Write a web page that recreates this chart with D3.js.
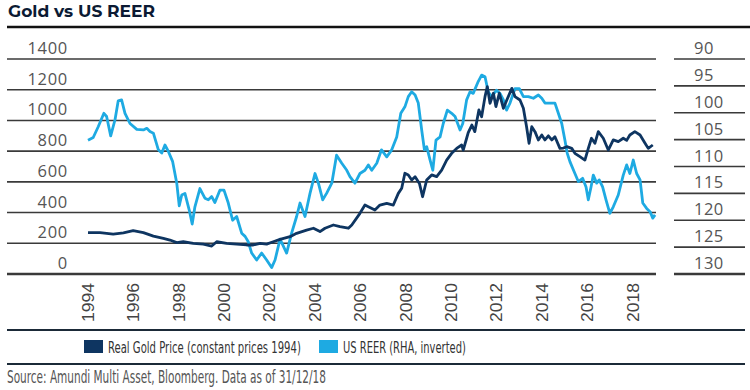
<!DOCTYPE html>
<html><head><meta charset="utf-8">
<script src="https://cdn.jsdelivr.net/npm/d3@7"></script>
<style>
html,body{margin:0;padding:0;background:#fff;}
svg{display:block;}
</style></head>
<body>
<svg id="chart" width="750" height="390"></svg>
<script>
// ---- data ----
const yearTicks = [1994,1996,1998,2000,2002,2004,2006,2008,2010,2012,2014,2016,2018];
const leftTicks = [0,200,400,600,800,1000,1200,1400];
const rightTicks = [90,95,100,105,110,115,120,125,130];
const seriesNames = ["Real Gold Price (constant prices 1994)", "US REER (RHA, inverted)"];

// US REER: [decimal year, index]
const reer = [
[1994.0,105.1],[1994.23,104.6],[1994.45,102.6],[1994.70,100.1],[1994.82,100.7],[1995.0,104.3],
[1995.19,101.3],[1995.33,97.8],[1995.48,97.6],[1995.63,100.1],[1995.85,102],[1996.15,103.1],
[1996.44,103.2],[1996.59,102.9],[1996.73,103.5],[1996.88,103.8],[1997.10,106.9],[1997.25,107.5],
[1997.39,106],[1997.54,107.2],[1997.73,109.1],[1997.91,113.1],[1998.02,117.3],[1998.13,115.3],
[1998.27,115],[1998.46,118.1],[1998.59,120.7],[1998.71,117.5],[1998.93,114.1],[1999.15,115.9],
[1999.30,116.2],[1999.45,115.6],[1999.59,116.7],[1999.81,114.4],[1999.99,114.4],[2000.18,116.8],
[2000.37,120],[2000.55,119.3],[2000.77,122.4],[2000.92,123],[2001.06,124],[2001.21,126.1],
[2001.43,127.4],[2001.65,126.1],[2001.87,127.4],[2002.09,128.8],[2002.24,127.4],[2002.46,123.5],
[2002.75,126.1],[2002.97,122.4],[2003.19,119.3],[2003.34,116.8],[2003.56,119.3],[2003.78,115],
[2004.0,111.3],[2004.15,113.1],[2004.34,116.2],[2004.51,115],[2004.74,113.1],[2004.95,107.9],
[2005.18,109.4],[2005.40,110.7],[2005.54,111.9],[2005.76,113.1],[2005.98,111.3],[2006.20,110.7],
[2006.35,109.7],[2006.50,110.7],[2006.72,109.4],[2006.93,106.9],[2007.16,108.2],[2007.38,106.9],
[2007.60,104.5],[2007.78,100.1],[2007.96,98.9],[2008.11,97],[2008.26,96.1],[2008.41,96.7],
[2008.55,98.2],[2008.70,103.2],[2008.82,106.9],[2008.92,106.3],[2009.07,108.8],[2009.19,110.7],
[2009.33,105.1],[2009.51,104.5],[2009.65,102],[2009.83,99.5],[2010.02,100.1],[2010.17,100.7],
[2010.39,103.2],[2010.51,102],[2010.68,97.6],[2010.83,96.1],[2010.97,96.4],[2011.19,94.2],
[2011.34,93],[2011.49,93.3],[2011.63,96.1],[2011.78,97],[2012.0,95.8],[2012.15,96.4],
[2012.30,97.6],[2012.44,99.5],[2012.59,98.2],[2012.81,95.5],[2013.0,95.5],[2013.18,97],
[2013.40,97],[2013.62,97.3],[2013.84,96.7],[2013.99,97.3],[2014.13,98.2],[2014.35,98.2],
[2014.57,98.2],[2014.72,100.1],[2014.87,102],[2015.01,105.1],[2015.11,107.5],[2015.23,109.1],
[2015.45,111.3],[2015.60,112.8],[2015.79,112.2],[2015.94,113.8],[2016.04,116.2],[2016.16,113.8],
[2016.26,111.6],[2016.41,113.1],[2016.52,112.5],[2016.67,113.8],[2016.82,116.2],[2016.99,118.7],
[2017.14,117.5],[2017.36,115.3],[2017.58,111.6],[2017.73,109.7],[2017.87,111.3],[2018.02,108.8],
[2018.17,111.3],[2018.32,112.5],[2018.44,116.8],[2018.61,117.8],[2018.76,118.4],[2018.88,119.6],
[2018.98,119]
];

// Real gold price: [decimal year, USD]
const gold = [
[1994.0,270],[1994.53,269],[1995.11,260],[1995.56,268],[1995.99,282],[1996.44,269],[1996.88,247],
[1997.32,232],[1997.61,221],[1997.91,204],[1998.20,210],[1998.64,200],[1999.08,195],[1999.45,182],
[1999.67,210],[2000.11,200],[2000.55,195],[2000.99,189],[2001.28,189],[2001.58,200],[2001.87,195],
[2002.16,210],[2002.46,225],[2002.90,243],[2003.19,265],[2003.63,286],[2003.93,298],[2004.22,276],
[2004.44,298],[2004.81,319],[2005.10,308],[2005.47,298],[2005.62,319],[2005.98,395],[2006.20,449],
[2006.35,438],[2006.64,417],[2006.86,449],[2007.16,460],[2007.45,449],[2007.67,525],[2007.82,558],
[2007.96,656],[2008.11,645],[2008.26,612],[2008.41,634],[2008.60,590],[2008.74,503],[2008.92,612],
[2009.14,645],[2009.36,634],[2009.58,677],[2009.80,742],[2010.02,786],[2010.24,818],[2010.46,840],
[2010.53,807],[2010.68,884],[2010.75,920],[2010.91,970],[2011.04,927],[2011.22,1068],[2011.34,1024],
[2011.49,1155],[2011.59,1220],[2011.71,1112],[2011.86,1177],[2011.97,1090],[2012.12,1177],
[2012.30,1079],[2012.45,1133],[2012.67,1209],[2012.81,1155],[2013.03,1133],[2013.18,1079],
[2013.32,959],[2013.43,851],[2013.55,959],[2013.69,927],[2013.84,873],[2013.99,905],[2014.13,873],
[2014.28,900],[2014.43,873],[2014.57,894],[2014.79,818],[2014.94,820],[2015.09,829],[2015.31,818],
[2015.45,786],[2015.67,764],[2015.89,742],[2016.04,818],[2016.18,884],[2016.33,851],[2016.48,927],
[2016.70,884],[2016.92,807],[2017.14,873],[2017.36,862],[2017.58,884],[2017.73,870],[2017.87,905],
[2018.09,927],[2018.32,905],[2018.54,851],[2018.68,818],[2018.88,840]
];

// ---- drawing ----
const svg = d3.select("#chart");
const colGold = "#0e3561", colReer = "#1eaae2", gridCol = "#3a3a3a";
const narrowFont = "'Liberation Sans Narrow', 'DejaVu Sans Condensed', 'Roboto', sans-serif";

const x = d3.scaleLinear().domain([1994, 2019]).range([88, 655.5]);
const yL = d3.scaleLinear().domain([0, 1400]).range([274, 59]);
const yR = d3.scaleLinear().domain([90, 130]).range([59, 274]);

// squeeze a text horizontally to a target width (keeps glyph height)
function fitText(sel, tx, ty, target) {
  sel.each(function() {
    const w = this.getComputedTextLength();
    const sx = w > 0 ? target / w : 1;
    d3.select(this).attr("x", 0).attr("y", 0)
      .attr("transform", `translate(${tx},${ty}) scale(${sx},1)`);
  });
}

// title
svg.append("text").attr("x", 8).attr("y", 17)
  .attr("font-family", "Montserrat, 'Open Sans', sans-serif").attr("font-weight", 700)
  .attr("font-size", 16).attr("fill", "#0b1a33")
  .attr("textLength", 147).attr("lengthAdjust", "spacingAndGlyphs")
  .text("Gold vs US REER");
svg.append("line").attr("x1", 7).attr("x2", 750).attr("y1", 27).attr("y2", 27)
  .attr("stroke", "#111").attr("stroke-width", 2.5);

// left gridlines + labels
const lg = svg.append("g");
lg.selectAll("line").data(leftTicks).join("line")
  .attr("x1", 7).attr("x2", 656)
  .attr("y1", d => yL(d)).attr("y2", d => yL(d))
  .attr("stroke", gridCol).attr("stroke-width", d => d === 0 ? 2.6 : 1.6);
lg.selectAll("text").data(leftTicks).join("text")
  .attr("x", 68).attr("y", d => yL(d) - 5)
  .attr("text-anchor", "end")
  .attr("font-family", "'Open Sans', sans-serif").attr("font-size", 16.5)
  .attr("letter-spacing", 0.7)
  .attr("fill", "#555").text(d => d);

// right gridlines + labels
const rg = svg.append("g");
rg.selectAll("line").data(rightTicks).join("line")
  .attr("x1", 674).attr("x2", 745)
  .attr("y1", d => yR(d)).attr("y2", d => yR(d))
  .attr("stroke", gridCol).attr("stroke-width", d => d === 130 ? 2.4 : 1.6);
rg.selectAll("text").data(rightTicks).join("text")
  .attr("x", 694).attr("y", d => yR(d) - 5)
  .attr("text-anchor", "start")
  .attr("font-family", "'Open Sans', sans-serif").attr("font-size", 16.5)
  .attr("letter-spacing", 0.5)
  .attr("fill", "#555").text(d => d);

// x labels (rotated)
svg.append("g").selectAll("text").data(yearTicks).join("text")
  .attr("transform", d => `translate(${x(d)},322) rotate(-90)`)
  .attr("dy", "0.36em")
  .attr("text-anchor", "start")
  .attr("font-family", "'Liberation Sans', Arial, sans-serif").attr("font-size", 16)
  .attr("textLength", 39).attr("lengthAdjust", "spacingAndGlyphs")
  .attr("fill", "#444").text(d => d);

// lines
const lineR = d3.line().x(d => x(d[0])).y(d => yR(d[1]));
const lineG = d3.line().x(d => x(d[0])).y(d => yL(d[1]));
svg.append("path").datum(reer).attr("d", lineR)
  .attr("fill", "none").attr("stroke", colReer).attr("stroke-width", 2.8)
  .attr("stroke-linejoin", "round");
svg.append("path").datum(gold).attr("d", lineG)
  .attr("fill", "none").attr("stroke", colGold).attr("stroke-width", 2.8)
  .attr("stroke-linejoin", "round");

// separators
svg.append("line").attr("x1", 7).attr("x2", 745).attr("y1", 330).attr("y2", 330)
  .attr("stroke", "#1b2a38").attr("stroke-width", 2.2);
svg.append("line").attr("x1", 7).attr("x2", 745).attr("y1", 364).attr("y2", 364)
  .attr("stroke", "#1b2a38").attr("stroke-width", 2.2);

// legend
const legendItems = [
  {name: seriesNames[0], color: colGold, rx: 84, tx: 108, tw: 193},
  {name: seriesNames[1], color: colReer, rx: 319, tx: 343, tw: 123}
];
const lgd = svg.append("g");
lgd.selectAll("rect").data(legendItems).join("rect")
  .attr("x", d => d.rx).attr("y", 340).attr("width", 19).attr("height", 13)
  .attr("fill", d => d.color);
lgd.selectAll("text").data(legendItems).join("text")
  .attr("font-family", narrowFont)
  .attr("font-size", 16)
  .attr("fill", "#333").text(d => d.name)
  .each(function(d) { fitText(d3.select(this), d.tx, 353, d.tw); });

// source
const src = svg.append("text")
  .attr("font-family", narrowFont)
  .attr("font-size", 17)
  .attr("fill", "#555").text("Source: Amundi Multi Asset, Bloomberg. Data as of 31/12/18");
fitText(src, 7, 383, 319);
</script>
</body></html>
